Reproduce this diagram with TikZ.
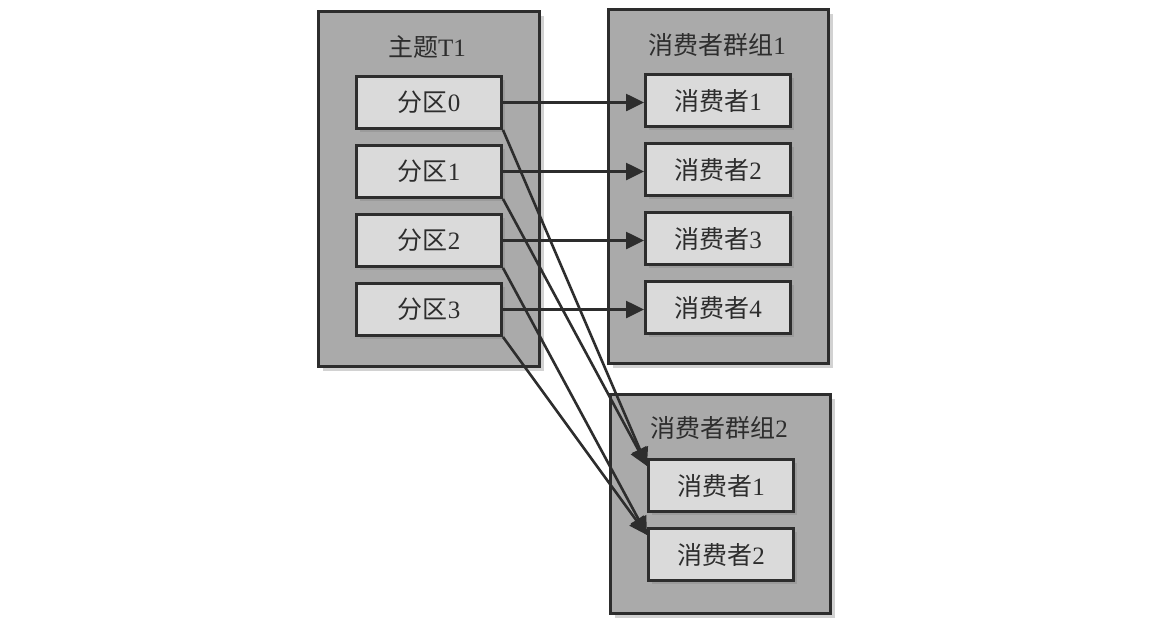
\documentclass[tikz,border=0pt]{standalone}
\usepackage{fontspec}
\setmainfont{Liberation Serif}
\newfontfamily\cjk{Noto Sans CJK SC}
\usetikzlibrary{arrows.meta,shadows,calc}
\definecolor{outerfill}{RGB}{170,170,170}
\definecolor{innerfill}{RGB}{218,218,218}
\definecolor{ink}{RGB}{45,45,45}
\tikzset{
  outerbox/.style={draw=ink, line width=3pt, fill=outerfill, anchor=north west, inner sep=0pt,
    drop shadow={shadow xshift=4pt, shadow yshift=-4pt, opacity=0.35}},
  innerbox/.style={draw=ink, line width=3pt, fill=innerfill, anchor=north west, inner sep=0pt,
    minimum width=145pt, minimum height=52pt,
    drop shadow={shadow xshift=3pt, shadow yshift=-3pt, opacity=0.35}},
  boxlabel/.style={font=\fontsize{25}{27}\selectfont, text=ink},
  conn/.style={draw=ink, line width=2.6pt, -{Triangle[length=18pt,width=17pt]}}
}
\begin{document}
\begin{tikzpicture}[x=1pt,y=-1pt]
\useasboundingbox[fill=white] (0,0) rectangle (1154,638);
% outer boxes
\node[outerbox, minimum width=221pt, minimum height=355pt] (t1) at (317,10) {};
\node[outerbox, minimum width=220pt, minimum height=354pt] (g1) at (607,8) {};
\node[outerbox, minimum width=220pt, minimum height=219pt] (g2) at (609,393) {};
% titles
\node[boxlabel] (t1title) at (427,47) {{\cjk 主题}T1};
\node[boxlabel] (g1title) at (717,45) {{\cjk 消费者群组}1};
\node[boxlabel] (g2title) at (719,428) {{\cjk 消费者群组}2};
% partitions
\node[innerbox] (p0) at (355,75) {};
\node[innerbox] (p1) at (355,144) {};
\node[innerbox] (p2) at (355,213) {};
\node[innerbox] (p3) at (355,282) {};
\node[boxlabel] (p0t) at (p0.center) {{\cjk 分区}0};
\node[boxlabel] (p1t) at (p1.center) {{\cjk 分区}1};
\node[boxlabel] (p2t) at (p2.center) {{\cjk 分区}2};
\node[boxlabel] (p3t) at (p3.center) {{\cjk 分区}3};
% group 1 consumers
\node[innerbox] (a1) at (644,73) {};
\node[innerbox] (a2) at (644,142) {};
\node[innerbox] (a3) at (644,211) {};
\node[innerbox] (a4) at (644,280) {};
\node[boxlabel] (a1t) at (a1.center) {{\cjk 消费者}1};
\node[boxlabel] (a2t) at (a2.center) {{\cjk 消费者}2};
\node[boxlabel] (a3t) at (a3.center) {{\cjk 消费者}3};
\node[boxlabel] (a4t) at (a4.center) {{\cjk 消费者}4};
% group 2 consumers
\node[innerbox] (b1) at (647,458) {};
\node[innerbox] (b2) at (647,527) {};
\node[boxlabel] (b1t) at (b1.center) {{\cjk 消费者}1};
\node[boxlabel] (b2t) at (b2.center) {{\cjk 消费者}2};
% arrow targets
\coordinate (b1in) at ($(b1.north west)+(0,8)$);
\coordinate (b2in) at ($(b2.north west)+(0,8)$);
% connectors
\draw[conn] (p0.east) -- (a1.west |- p0.east);
\draw[conn] (p1.east) -- (a2.west |- p1.east);
\draw[conn] (p2.east) -- (a3.west |- p2.east);
\draw[conn] (p3.east) -- (a4.west |- p3.east);
\draw[conn] (p0.south east) -- (b1in);
\draw[conn] (p1.south east) -- (b1in);
\draw[conn] (p2.south east) -- (b2in);
\draw[conn] (p3.south east) -- (b2in);
\end{tikzpicture}
\end{document}
